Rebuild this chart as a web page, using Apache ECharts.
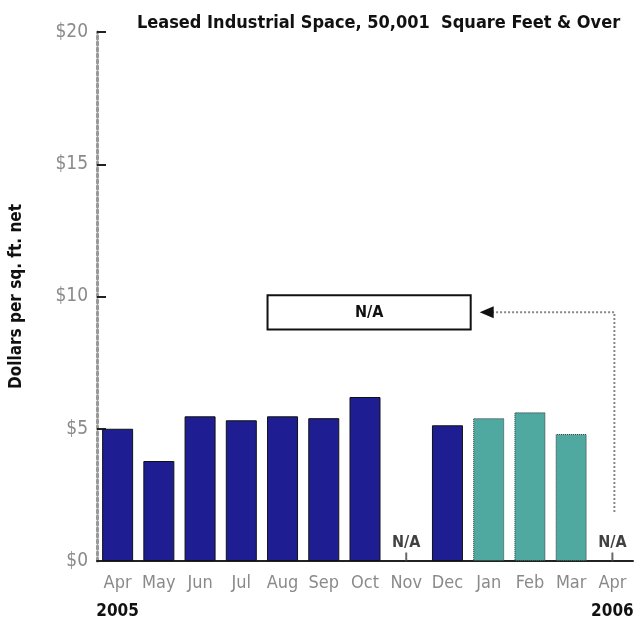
<!DOCTYPE html>
<html>
<head>
<meta charset="utf-8">
<script src="https://cdn.jsdelivr.net/npm/echarts@6/dist/echarts.min.js"></script>
<style>
  html, body { margin: 0; padding: 0; background: #fff; }
  #chart { width: 642px; height: 627px; }
</style>
</head>
<body>
<div id="chart"></div>
<script>
// months shown on the x axis (Apr 2005 .. Apr 2006)
var months = ['Apr', 'May', 'Jun', 'Jul', 'Aug', 'Sep', 'Oct', 'Nov', 'Dec', 'Jan', 'Feb', 'Mar', 'Apr']
// year captions under the first and last month
var yearLabels = { 0: '2005', 12: '2006' }
// 2005 rents (dark bars), null = not available
var rent2005 = [5.0, 3.78, 5.47, 5.32, 5.47, 5.4, 6.2, null, 5.13, null, null, null, null]
// 2006 rents (teal bars)
var rent2006 = [null, null, null, null, null, null, null, null, null, 5.4, 5.62, 4.8, null]
// months with no data
var naIndex = [7, 12]

var narrow = "'DejaVu Sans Condensed', 'Liberation Sans Narrow', sans-serif"

var chart = echarts.init(document.getElementById('chart'))

var option = {
  animation: false,
  backgroundColor: '#fff',
  title: {
    text: 'Leased Industrial Space, 50,001  Square Feet & Over',
    left: 132,
    top: 9,
    textStyle: {
      fontFamily: narrow,
      fontWeight: 'bold',
      fontSize: 18,
      color: '#111'
    }
  },
  grid: {
    left: 96,
    right: 9,
    top: 32,
    bottom: 61
  },
  xAxis: {
    type: 'category',
    data: months,
    axisTick: { show: false },
    axisLine: {
      lineStyle: { color: '#222', width: 2 }
    },
    axisLabel: {
      interval: 0,
      margin: 8,
      color: '#8a8a8a',
      fontFamily: narrow,
      fontSize: 18,
      lineHeight: 28,
      formatter: function (value, index) {
        if (yearLabels[index]) {
          return value + '\n{y|' + yearLabels[index] + '}'
        }
        return value
      },
      rich: {
        y: {
          color: '#111',
          fontWeight: 'bold',
          fontFamily: narrow,
          fontSize: 17,
          lineHeight: 30
        }
      }
    }
  },
  yAxis: {
    type: 'value',
    min: 0,
    max: 20,
    interval: 5,
    name: 'Dollars per sq. ft. net',
    nameLocation: 'middle',
    nameGap: 72,
    nameTextStyle: {
      fontFamily: narrow,
      fontWeight: 'bold',
      fontSize: 17,
      color: '#111'
    },
    splitLine: { show: false },
    axisLine: {
      show: true,
      lineStyle: { color: '#999', width: 3, type: 'dotted' }
    },
    axisTick: {
      show: true,
      inside: true,
      length: 9,
      lineStyle: { color: '#222', width: 2 }
    },
    axisLabel: {
      color: '#8a8a8a',
      fontFamily: narrow,
      fontSize: 19,
      margin: 9,
      formatter: function (v) { return '$' + v }
    }
  },
  series: [
    {
      type: 'bar',
      stack: 'rent',
      barWidth: 31,
      data: rent2005,
      itemStyle: {
        color: '#1e1e92',
        borderColor: '#111',
        borderWidth: 1
      }
    },
    {
      type: 'bar',
      stack: 'rent',
      barWidth: 31,
      data: rent2006,
      itemStyle: {
        color: '#4fa9a1',
        borderColor: '#333',
        borderWidth: 1,
        borderType: 'dotted'
      }
    },
    {
      type: 'scatter',
      data: naIndex.map(function (i) { return [i, 0] }),
      symbol: 'rect',
      symbolSize: [2, 9],
      symbolOffset: [0, -4],
      itemStyle: { color: '#444' },
      label: {
        show: true,
        position: 'top',
        distance: 2,
        formatter: 'N/A',
        fontFamily: narrow,
        fontWeight: 'bold',
        fontSize: 16,
        color: '#111'
      }
    }
  ]
}

chart.setOption(option)

// N/A note box with a dashed arrow from the Apr 2006 slot
var boxL = chart.convertToPixel({ xAxisIndex: 0 }, 4) - 15
var boxR = chart.convertToPixel({ xAxisIndex: 0 }, 9) - 18
var boxTop = chart.convertToPixel({ yAxisIndex: 0 }, 10.05)
var boxBot = chart.convertToPixel({ yAxisIndex: 0 }, 8.75)
var midY = (boxTop + boxBot) / 2
var aprX = chart.convertToPixel({ xAxisIndex: 0 }, 12)
var arrowTip = boxR + 9
var lineBottom = chart.convertToPixel({ yAxisIndex: 0 }, 1.85)

chart.setOption({
  graphic: [
    {
      type: 'rect',
      shape: { x: boxL, y: boxTop, width: boxR - boxL, height: boxBot - boxTop },
      style: { fill: '#fff', stroke: '#111', lineWidth: 2 }
    },
    {
      type: 'text',
      x: (boxL + boxR) / 2,
      y: midY,
      style: {
        text: 'N/A',
        textAlign: 'center',
        textVerticalAlign: 'middle',
        font: 'bold 16px ' + narrow,
        fill: '#111'
      }
    },
    {
      type: 'polyline',
      shape: { points: [[aprX + 2, lineBottom], [aprX + 2, midY], [arrowTip + 10, midY]] },
      style: { stroke: '#888', lineWidth: 2, lineDash: [2, 2], fill: null }
    },
    {
      type: 'polygon',
      shape: { points: [[arrowTip, midY], [arrowTip + 14, midY - 6], [arrowTip + 14, midY + 6]] },
      style: { fill: '#111' }
    }
  ]
})
</script>
</body>
</html>
